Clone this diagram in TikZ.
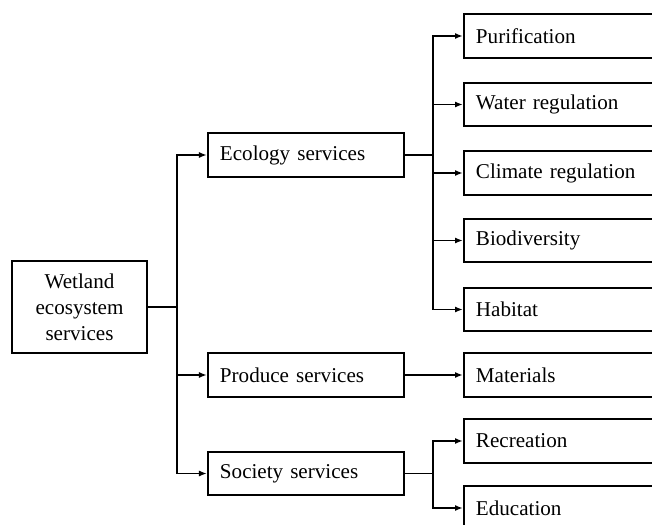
\documentclass[tikz,border=0pt]{standalone}
\usepackage{fontspec}
\setmainfont{Liberation Serif}
\usetikzlibrary{arrows.meta}
\tikzset{
	box/.style={draw, line width=1.4pt, inner xsep=0.3cm, inner ysep=0pt, minimum height=1.08cm, text width=#1, align=left, font=\fontsize{15}{18}\selectfont},
	rootbox/.style={draw, line width=1.4pt, inner sep=0pt, minimum width=3.375cm, minimum height=2.3cm, align=center, font=\fontsize{15}{18.5}\selectfont},
	link/.style={line width=1.4pt},
	arr/.style={line width=1.4pt, -{Latex[length=2mm,width=1.5mm]}}
}

\begin{document}
\begin{tikzpicture}[x=0.025cm, y=-0.025cm]
		%%%%% START %%%%%
		\useasboundingbox (0,0) rectangle (652,525);
		\clip (0,0) rectangle (652,525);
		
		\node[rootbox] (wet) at (79.5,307) {Wetland\\ecosystem\\services};
		
		\node[box=4.3cm, anchor=west] (eco) at (207,155) {Ecology services};
		\node[box=4.3cm, anchor=west] (pro) at (207,375) {Produce services};
		\node[box=4.3cm, anchor=west] (soc) at (207,473.5) {Society services};
		
		\node[box=5cm, anchor=west] (pur) at (463,36) {Purification};
		\node[box=5cm, anchor=west] (wat) at (463,104.5) {Water regulation};
		\node[box=5cm, anchor=west] (cli) at (463,173) {Climate regulation};
		\node[box=5cm, anchor=west] (bio) at (463,240.5) {Biodiversity};
		\node[box=5cm, anchor=west] (hab) at (463,309.5) {Habitat};
		\node[box=5cm, anchor=west] (mat) at (463,375) {Materials};
		\node[box=5cm, anchor=west] (rec) at (463,441) {Recreation};
		\node[box=5cm, anchor=west] (edu) at (463,508) {Education};
		
		\coordinate (j1) at (177,307);
		\coordinate (j2) at (433,155);
		\coordinate (j3) at (433,473.5);
		
		\draw[link] (wet) -- (j1);
		\draw[arr] (j1) |- (eco);
		\draw[arr] (j1) |- (pro);
		\draw[arr] (j1) |- (soc);
		
		\draw[link] (eco) -- (j2);
		\draw[arr] (j2) |- (pur);
		\draw[arr] (j2) |- (wat);
		\draw[arr] (j2) |- (cli);
		\draw[arr] (j2) |- (bio);
		\draw[arr] (j2) |- (hab);
		
		\draw[arr] (pro) -- (mat);
		
		\draw[link] (soc) -- (j3);
		\draw[arr] (j3) |- (rec);
		\draw[arr] (j3) |- (edu);
		%%%%% END %%%%%
	\end{tikzpicture}
\end{document}
